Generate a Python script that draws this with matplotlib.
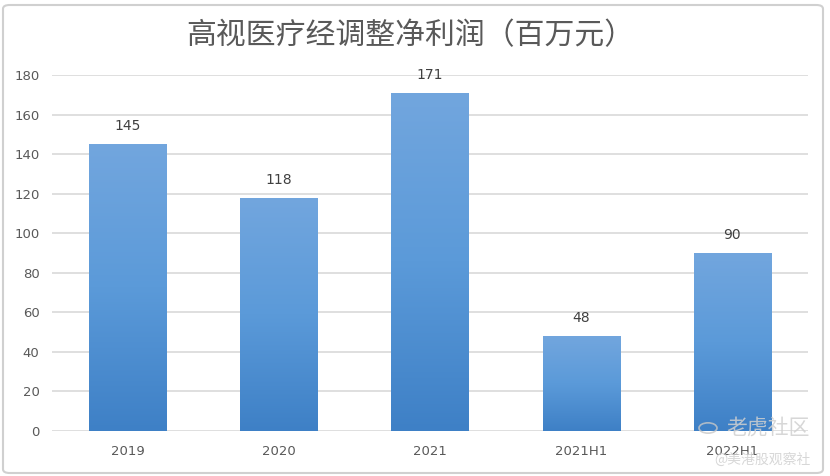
import matplotlib
matplotlib.use("Agg")
import matplotlib.pyplot as plt
import numpy as np
from matplotlib.colors import LinearSegmentedColormap
from matplotlib.patches import FancyBboxPatch, Circle

plt.rcParams['font.family'] = ['Noto Sans CJK SC', 'DejaVu Sans']

categories = ["2019", "2020", "2021", "2021H1", "2022H1"]
values = [145, 118, 171, 48, 90]
yticks = [0, 20, 40, 60, 80, 100, 120, 140, 160, 180]
title = "高视医疗经调整净利润（百万元）"

fig = plt.figure(figsize=(8.3, 4.76), dpi=100)
fig.patch.set_facecolor("white")
ax = fig.add_axes([52/830, 1-431/476, 756/830, 356/476])

x = np.arange(len(categories))
bars = ax.bar(x, values, width=0.51, color="#5b9bd5", zorder=2)

cmap = LinearSegmentedColormap.from_list("g", ["#3e80c6", "#5b9ad9", "#72a6de"])
grad = np.linspace(0, 1, 256).reshape(-1, 1)
for b in bars:
    x0, y0 = b.get_x(), b.get_y()
    w, h = b.get_width(), b.get_height()
    im = ax.imshow(grad, cmap=cmap, origin="lower", aspect="auto",
                   extent=[x0, x0 + w, y0, y0 + h], zorder=3)
    im.set_clip_path(b)

for xi, v in zip(x, values):
    ax.annotate(str(v), (xi, v), xytext=(0, 8), textcoords="offset points",
                ha="center", va="bottom", fontsize=10, color="#404040",
                family="DejaVu Sans")

ax.set_xlim(-0.5, len(categories) - 0.5)
ax.set_ylim(0, 180)
ax.set_yticks(yticks)
ax.set_xticks(x)
ax.set_xticklabels(categories, family="DejaVu Sans")
ax.tick_params(axis="both", length=0, labelsize=9.5, colors="#595959")
ax.tick_params(axis="y", pad=9)
ax.tick_params(axis="x", pad=10)
for lbl in ax.get_yticklabels():
    lbl.set_family("DejaVu Sans")
ax.grid(axis="y", color="#d9d9d9", linewidth=1.2, zorder=0)
ax.set_axisbelow(True)
for s in ax.spines.values():
    s.set_visible(False)

fig.text(410/830, 1-36/476, title, ha="center", va="center",
         fontsize=21.5, color="#595959")

border = FancyBboxPatch((3/830, 3/476), 820/830, 468/476,
                        boxstyle="round,pad=0,rounding_size=0.008",
                        transform=fig.transFigure, fill=False,
                        edgecolor="#d0d0d0", linewidth=1.5)
fig.patches.append(border)

# watermark
fig.patches.append(Circle((708/830, 1-428/476), 9/830, transform=fig.transFigure,
                          fill=False, edgecolor="#c8c8c8", linewidth=1.2, alpha=0.8))
fig.text(768/830, 1-428/476, "老虎社区", ha="center", va="center",
         fontsize=15, color="#d0d0d0", alpha=0.85)
fig.text(762/830, 1-460/476, "@美港股观察社", ha="center", va="center",
         fontsize=10, color="#d0d0d0", alpha=0.85)

fig.savefig("out.png", dpi=100, facecolor="white")
